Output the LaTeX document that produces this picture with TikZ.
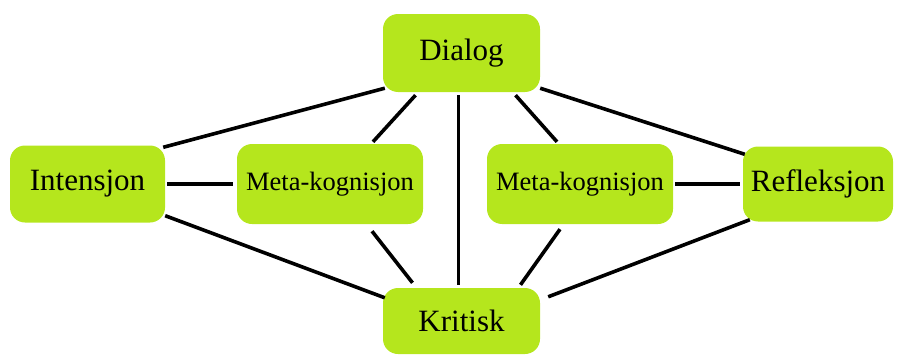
\documentclass[tikz,border=0pt]{standalone}
\usepackage{fontspec}
\setmainfont{Liberation Serif}
\definecolor{lime}{RGB}{181,230,29}
\tikzset{
  box/.style={draw=none, fill=lime, rounded corners=15pt, inner sep=0pt, font=\fontsize{31}{35}\selectfont},
  metabox/.style={box, font=\fontsize{26.5}{30}\selectfont},
  link/.style={line width=3.6pt, black}
}
\begin{document}
\begin{tikzpicture}[x=1pt,y=-1pt]
\useasboundingbox (0,0) rectangle (897,356);
\node[box, minimum width=157pt, minimum height=78pt] (dialog) at (461.5,53) {Dialog};
\node[box, minimum width=155pt, minimum height=77pt] (intens) at (87.5,184) {Intensjon};
\node[metabox, minimum width=186pt, minimum height=80pt] (meta1) at (330,184) {Meta-kognisjon};
\node[metabox, minimum width=186pt, minimum height=80pt] (meta2) at (580,184) {Meta-kognisjon};
\node[box, minimum width=150pt, minimum height=75pt] (refl) at (818,184) {Refleksjon};
\node[box, minimum width=157pt, minimum height=66pt] (krit) at (461.5,321) {Kritisk};

\draw[link] ([xshift=-2pt,yshift=-2pt]intens.north east) -- ([xshift=2pt,yshift=4pt]dialog.south west);
\draw[link, shorten <=2pt, shorten >=4pt] (intens.east) -- (meta1.west);
\draw[link] ([yshift=7pt]intens.south east) -- ([xshift=2pt,yshift=-10pt]krit.north west);
\draw[link] ([xshift=43pt,yshift=2pt]meta1.north) -- ([xshift=-46pt,yshift=-3pt]dialog.south);
\draw[link] ([xshift=42pt,yshift=-7pt]meta1.south) -- ([xshift=-49pt,yshift=5pt]krit.north);
\draw[link] ([xshift=-3pt,yshift=-3pt]dialog.south) -- ([xshift=-3pt,yshift=3pt]krit.north);
\draw[link] ([xshift=-23pt,yshift=2pt]meta2.north) -- ([xshift=54pt,yshift=-3pt]dialog.south);
\draw[link] ([xshift=-20pt,yshift=-5pt]meta2.south) -- ([xshift=59pt,yshift=3pt]krit.north);
\draw[link] ([yshift=4pt]dialog.south east) -- ([xshift=2pt,yshift=-8pt]refl.north west);
\draw[link, shorten <=2pt, shorten >=3pt] (meta2.east) -- (refl.west);
\draw[link] ([xshift=8pt,yshift=-9pt]krit.north east) -- ([xshift=7pt,yshift=2pt]refl.south west);
\end{tikzpicture}
\end{document}
